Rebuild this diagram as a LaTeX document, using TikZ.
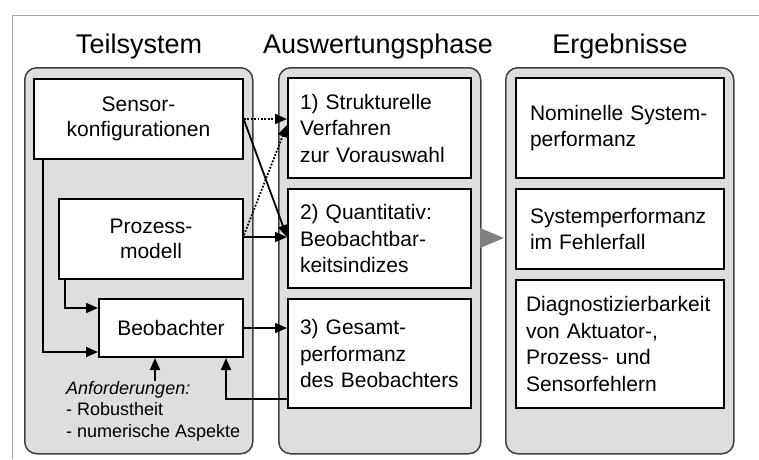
\documentclass[tikz,border=0pt]{standalone}
\usepackage{fontspec}
\setmainfont{Liberation Sans}
\usetikzlibrary{arrows.meta}
\begin{document}
\begin{tikzpicture}[x=1pt,y=-1pt,
  panel/.style={draw=black!75, fill=black!13, line width=1.5pt, rounded corners=12pt, inner sep=0pt, anchor=north west},
  box/.style={draw=black, fill=white, line width=2pt, inner sep=0pt, anchor=north west, font=\fontsize{21}{25}\selectfont},
  lbox/.style={box, align=left, font=\fontsize{21}{26.5}\selectfont},
  arr/.style={line width=1.8pt, -{Triangle[length=12pt,width=10pt]}},
  dotarr/.style={arr, dash pattern=on 1.8pt off 1.6pt},
  ttl/.style={font=\fontsize{27}{31}\selectfont, anchor=base}]
\useasboundingbox (0,0) rectangle (759,459);
\draw[black!35, line width=1pt] (12,459) -- (12,15) -- (759,15);

% titles
\node[ttl] (t1) at (139,53) {Teilsystem};
\node[ttl] (t2) at (378,53) {Auswertungsphase};
\node[ttl] (t3) at (620,53) {Ergebnisse};

% panels
\node[panel, minimum width=228pt, minimum height=386pt] (p1) at (24,67) {};
\node[panel, minimum width=202pt, minimum height=386pt] (p2) at (278,67) {};
\node[panel, minimum width=228pt, minimum height=386pt] (p3) at (505,67) {};

% panel 1
\node[box, align=center, minimum width=209pt, minimum height=80pt] (sensor) at (33,78) {Sensor-\\konfigurationen};
\node[box, align=center, minimum width=184pt, minimum height=80pt] (prozess) at (58,198) {Prozess-\\modell};
\node[box, minimum width=144pt, minimum height=58pt] (beob) at (98,298) {Beobachter};
\node[align=left, anchor=north west, inner sep=0pt, font=\fontsize{18}{21.5}\selectfont] (anf) at (66,381)
  {\textit{Anforderungen:}\\- Robustheit\\- numerische Aspekte};

% panel 2
\node[lbox, text width=159pt, inner xsep=12pt, minimum height=100pt] (b1) at (287,77) {1) Strukturelle\\Verfahren\\zur Vorauswahl};
\node[lbox, text width=159pt, inner xsep=12pt, minimum height=99pt] (b2) at (287,188) {2) Quantitativ:\\Beobachtbar-\\keitsindizes};
\node[lbox, text width=159pt, inner xsep=12pt, minimum height=109pt] (b3) at (287,298) {3) Gesamt-\\performanz\\des Beobachters};

% panel 3
\node[lbox, text width=180pt, inner xsep=14pt, minimum height=100pt] (rA) at (515,77) {Nominelle System-\\performanz};
\node[lbox, text width=180pt, inner xsep=14pt, minimum height=80pt] (rB) at (515,188) {Systemperformanz\\im Fehlerfall};
\node[lbox, text width=188pt, inner xsep=10pt, minimum height=128pt] (rC) at (515,279) {Diagnostizierbarkeit\\von Aktuator-,\\Prozess- und\\Sensorfehlern};

% connectors panel 1 -> panel 2
\coordinate (s1) at ([yshift=-41pt]sensor.north east);
\coordinate (s2) at ([yshift=-42pt]sensor.north east);
\coordinate (q1) at ([yshift=-37pt]prozess.north east);
\coordinate (q2) at ([yshift=-39pt]prozess.north east);
\coordinate (e1a) at ([yshift=-42pt]b1.north west);
\coordinate (e1b) at ([yshift=-48pt]b1.north west);
\coordinate (e2) at ([yshift=-49pt]b2.north west);
\draw[dotarr] (s1) -- (e1a);
\draw[arr] (s2) -- (e2);
\draw[dotarr] (q1) -- (e1b);
\draw[arr] (q2) -- (e2);

% inside panel 1
\draw[arr] ([xshift=10pt]sensor.south west) |- ([yshift=6pt]beob.south west);
\draw[arr] ([xshift=7pt]prozess.south west) |- ([yshift=-10pt]beob.north west);
\draw[arr] (beob.east) -- (beob.east -| b3.west);
\coordinate (ain) at ([xshift=57pt]beob.south west);
\draw[arr] (anf.north -| ain) -- (ain);
\draw[arr] ([yshift=10pt]b3.south west) -| ([xshift=-18pt]beob.south east);

% gray arrow panel 2 -> panel 3
\fill[black!50] (480,228) -- (504,238) -- (480,248) -- cycle;
\end{tikzpicture}
\end{document}
